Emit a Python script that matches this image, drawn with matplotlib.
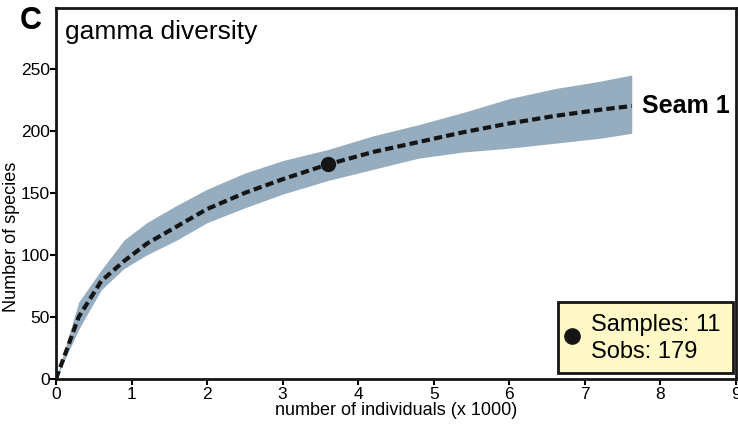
import numpy as np
import matplotlib.pyplot as plt
from matplotlib.patches import Rectangle

# rarefaction curve (x in thousands of individuals)
x_vals = [0, 0.3, 0.6, 0.9, 1.2, 1.6, 2.0, 2.5, 3.0, 3.6, 4.2, 4.8, 5.4, 6.0, 6.6, 7.2, 7.62]
mean_vals = [0, 50, 79, 95, 109, 123, 137, 150, 161, 173, 183, 191, 199, 206, 212, 217, 220]
upper_vals = [0, 62, 88, 112, 126, 140, 153, 166, 176, 185, 196, 205, 215, 226, 234, 240, 245]
lower_vals = [0, 40, 72, 89, 100, 112, 126, 138, 149, 160, 169, 178, 183, 186, 190, 194, 198]
obs_x, obs_y = 3.6, 173

plt.rcParams['font.family'] = ['Liberation Sans', 'DejaVu Sans']

fig = plt.figure(figsize=(7.38, 4.24), dpi=100)
ax = fig.add_axes([56/738, 1-379/424, (736-56)/738, (379-8)/424])

ax.fill_between(x_vals, lower_vals, upper_vals, color='#96adbf', lw=0)
ax.plot(x_vals, mean_vals, color='#151515', lw=3, ls=(0, (2, 1)))
ax.plot(obs_x, obs_y, 'o', color='#151515', ms=10)

ax.set_xlim(0, 9)
ax.set_ylim(0, 299)
ax.set_xticks(range(0, 10))
ax.set_yticks([0, 50, 100, 150, 200, 250])
for s in ax.spines.values():
    s.set_linewidth(2)
    s.set_color('#151515')
ax.tick_params(width=1.5, length=4, labelsize=12.5, pad=0.5)
ax.tick_params(axis='x', pad=2)
ax.set_xlabel('number of individuals (x 1000)', fontsize=13, labelpad=0)
ax.set_ylabel('Number of species', fontsize=13)
ax.yaxis.set_label_coords(-0.053, 0.383)

ax.text(7.75, 220, 'Seam 1', fontsize=18, fontweight='bold', va='center', ha='left')
ax.text(9/680, 0.935, 'gamma diversity', transform=ax.transAxes, fontsize=19,
        va='center', ha='left')
fig.text(31/738, 1-21/424, 'C', fontsize=22, fontweight='bold', va='center', ha='center')

# legend box
fig.add_artist(Rectangle((558/738, 1-373/424), (733-558)/738, (373-302)/424,
                         transform=fig.transFigure, facecolor='#fef9c6',
                         edgecolor='#151515', lw=2))
fig.add_artist(plt.Line2D([572/738], [1-336/424], marker='o', color='#151515',
                          ms=11, transform=fig.transFigure))
fig.text(591/738, 1-325/424, 'Samples: 11', fontsize=17, va='center', ha='left')
fig.text(591/738, 1-352/424, 'Sobs: 179', fontsize=17, va='center', ha='left')

fig.savefig('out.png', dpi=100)
